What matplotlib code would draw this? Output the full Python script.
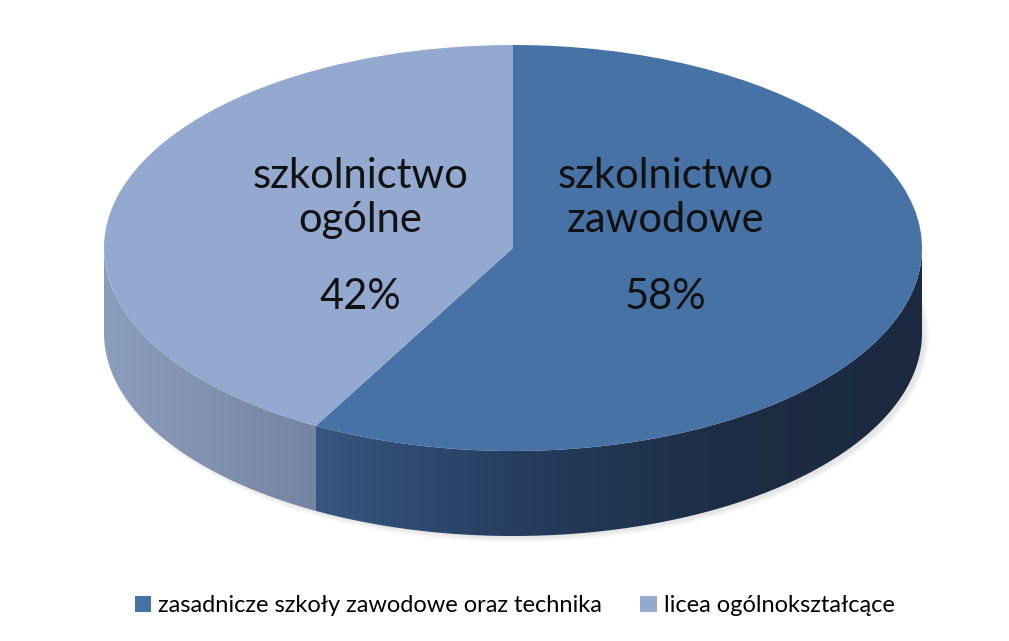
import numpy as np
import matplotlib.pyplot as plt
from matplotlib.patches import Wedge, Polygon, Patch, Ellipse
from matplotlib.transforms import Affine2D
from matplotlib.colors import LinearSegmentedColormap

# data
slice_labels = ["szkolnictwo\nzawodowe", "szkolnictwo\nogólne"]
legend_labels = ["zasadnicze szkoły zawodowe oraz technika", "licea ogólnokształcące"]
shares = [58, 42]

top_colors = ["#4672A6", "#93A9CF"]
side_grads = [["#36577F", "#263D5E", "#1D2D45", "#1B2A40"], ["#8C9EBE", "#8191B0", "#7484A2"]]

# pie geometry (pixel space, y down)
cx, cy, rx, ry, depth = 513, 248, 409, 203, 85

fig = plt.figure(figsize=(10.09, 6.41), dpi=100)
ax = fig.add_axes([0, 0, 1, 1])
ax.set_xlim(0, 1009)
ax.set_ylim(641, 0)
ax.axis("off")

tr = Affine2D().scale(rx, -ry).translate(cx, cy) + ax.transData

# slice angles, clockwise from 12 o'clock
total = sum(shares)
angles = []
start = 90.0
for v in shares:
    end = start - 360.0 * v / total
    angles.append((end, start))
    start = end

# soft shadow
for k in range(3):
    ax.add_patch(Ellipse((cx + 4, cy + depth + 3), 2 * rx + 6 - 4 * k, 2 * ry + 6 - 4 * k,
                         color="#555555", alpha=0.05, lw=0, zorder=0))


def arc(t1, t2, dy=0.0, n=200):
    t = np.radians(np.linspace(t1, t2, n))
    return np.column_stack([cx + rx * np.cos(t), cy - ry * np.sin(t) + dy])


# side walls (front half only: 180..360 deg)
for (a1, a2), cols in zip(angles, side_grads):
    lo, hi = a1 % 360, (a1 % 360) + (a2 - a1)
    segs = []
    for off in (0, 360, -360):
        s, e = max(lo + off, 180), min(hi + off, 360)
        if e > s:
            segs.append((s, e))
    for s, e in segs:
        top = arc(s, e)
        bot = arc(e, s, depth)
        poly = Polygon(np.vstack([top, bot]), closed=True, facecolor="none", edgecolor="none")
        ax.add_patch(poly)
        cmap = LinearSegmentedColormap.from_list("g", cols)
        xs = np.vstack([top, bot])[:, 0]
        grad = np.linspace(0, 1, 256).reshape(1, -1)
        im = ax.imshow(grad, cmap=cmap, aspect="auto", zorder=1,
                       extent=[xs.min(), xs.max(), cy + ry + depth + 2, cy - 2])
        im.set_clip_path(poly)

# top faces
for (a1, a2), col in zip(angles, top_colors):
    ax.add_patch(Wedge((0, 0), 1, a1, a2, facecolor=col, edgecolor="none",
                       transform=tr, zorder=2))

# labels
for (a1, a2), lab, v in zip(angles, slice_labels, shares):
    mid = np.radians((a1 + a2) / 2)
    x = cx + rx * 0.385 * np.cos(mid)
    ax.text(x, 198, lab, ha="center", va="center", fontsize=30, family="Lato",
            color="#111111", linespacing=1.2, zorder=3)
    ax.text(x, 297, f"{v}%", ha="center", va="center", fontsize=30, family="Lato",
            color="#111111", zorder=3)

handles = [Patch(facecolor=c, edgecolor="none") for c in top_colors]
fig.legend(handles, legend_labels, loc="center", bbox_to_anchor=(0.51, 0.055),
           ncol=2, frameon=False, prop={"family": "Lato", "size": 17},
           handlelength=0.7, handleheight=0.7, handletextpad=0.3, columnspacing=1.6)

fig.savefig("out.png", dpi=100, facecolor="white")
